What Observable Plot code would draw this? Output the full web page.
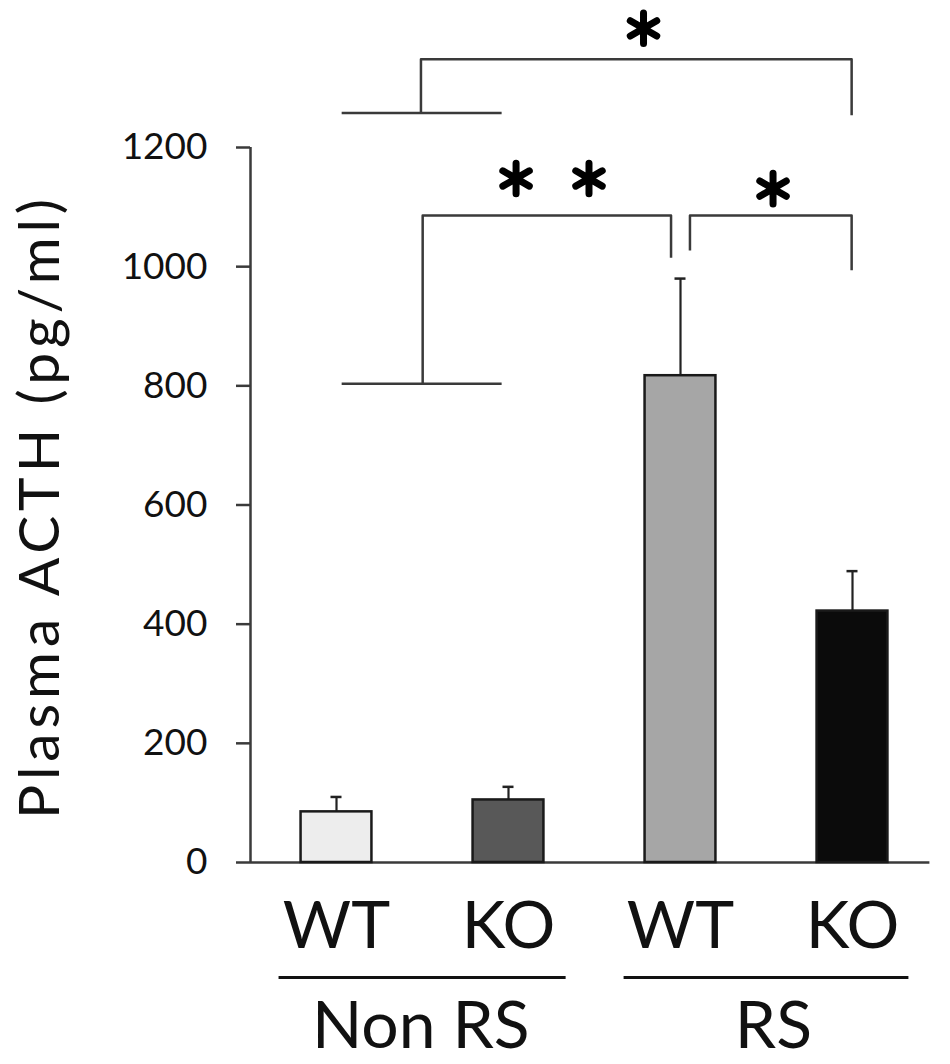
<!DOCTYPE html>
<html><head><meta charset="utf-8">
<script src="https://cdn.jsdelivr.net/npm/d3@7"></script>
<script src="https://cdn.jsdelivr.net/npm/@observablehq/plot@0.6"></script>
<style>body{margin:0;background:#fff} #chart{width:950px;height:1064px}</style>
</head><body><div id="chart"></div>
<script>
// ---- data ----
const genotypes = ["WT", "KO", "WT", "KO"];
const acth = [85, 105, 817, 422];          // pg/ml
const sem = [25, 22, 163, 67];             // upward error
const barColors = ["#ededed", "#585858", "#a6a6a6", "#0b0b0b"];
const yTicks = [0, 200, 400, 600, 800, 1000, 1200];
const groupNames = ["Non RS", "RS"];
const groupSpan = [[0.666, 2.335], [2.672, 4.328]];
const groupLabelX = [1.49, 3.54];
// significance brackets (x in bar-index units, y in pg/ml)
const brackets = [
  {id: "b1", pts: [[1.491, 1258], [1.491, 1348], [3.995, 1348], [3.995, 1254]]},
  {id: "b1base", pts: [[1.03, 1258], [1.96, 1258]]},
  {id: "b2", pts: [[1.501, 803.5], [1.501, 1086], [2.945, 1086], [2.945, 1015]]},
  {id: "b2base", pts: [[1.03, 803.5], [1.96, 803.5]]},
  {id: "b3", pts: [[3.055, 1027], [3.055, 1086], [3.995, 1086], [3.995, 994]]}
];
const stars = [[2.785, 1400], [2.044, 1148], [2.468, 1148], [3.538, 1131]];
const yLabel = "Plasma ACTH (pg/ml)";

// ---- build ----
const idx = d3.range(acth.length);
const bracketPts = brackets.flatMap(b => b.pts.map(p => ({id: b.id, x: p[0], y: p[1]})));
const halfW = 0.206, capW = 0.032;
const ink = "#111";

const chart = Plot.plot({
  width: 950, height: 1064,
  marginLeft: 250, marginRight: 12, marginTop: 147, marginBottom: 202,
  x: {type: "linear", domain: [0.5, 4.5], axis: null},
  y: {domain: [0, 1200], axis: null},
  color: {type: "identity"},
  style: {fontFamily: "Lato, 'Open Sans', sans-serif", background: "white", color: ink},
  marks: [
    Plot.axisY({ticks: yTicks, tickFormat: d => String(d), tickSize: 14, tickPadding: 29,
      fontSize: 37, stroke: "#3a3a3a", strokeWidth: 2.5, fill: ink, label: null}),
    Plot.ruleX([0.5], {y1: 0, y2: 1200, stroke: "#3a3a3a", strokeWidth: 2.5}),
    Plot.ruleY([0], {x1: 0.5, x2: 4.45, stroke: "#3a3a3a", strokeWidth: 2.5}),
    Plot.ruleX(idx, {x: i => i + 1, y1: i => acth[i], y2: i => acth[i] + sem[i], stroke: "#222", strokeWidth: 2.2}),
    Plot.ruleY(idx, {y: i => acth[i] + sem[i], x1: i => i + 1 - capW, x2: i => i + 1 + capW, stroke: "#222", strokeWidth: 2.5}),
    Plot.rectY(idx, {x1: i => i + 1 - halfW, x2: i => i + 1 + halfW, y1: 0, y2: i => acth[i],
      fill: i => barColors[i], stroke: "#1a1a1a", strokeWidth: 2.5}),
    Plot.line(bracketPts, {x: "x", y: "y", z: "id", stroke: "#3a3a3a", strokeWidth: 2.5,
      strokeLinejoin: "round", strokeLinecap: "butt"}),
    Plot.dot(stars, {x: d => d[0], y: d => d[1], symbol: "asterisk", r: 14.5,
      stroke: "#000", strokeWidth: 7, strokeLinecap: "round"}),
    Plot.text(idx, {x: i => i + 1, y: -108, text: i => genotypes[i], fontSize: 66, lineAnchor: "middle", fill: ink}),
    Plot.ruleY(d3.range(groupNames.length), {y: -193, x1: i => groupSpan[i][0], x2: i => groupSpan[i][1], stroke: ink, strokeWidth: 3}),
    Plot.text(d3.range(groupNames.length), {x: i => groupLabelX[i], y: -276, text: i => groupNames[i], fontSize: 66, lineAnchor: "middle", fill: ink}),
    Plot.text([yLabel], {frameAnchor: "left", textAnchor: "middle", lineAnchor: "middle", dx: -210, dy: 4, rotate: -90,
      text: d => d, fontSize: 57, fill: ink})
  ]
});
// stretch the axis title to the reference's length
d3.select(chart).selectAll("text").filter(function() { return this.textContent === yLabel; })
  .attr("textLength", 620).attr("lengthAdjust", "spacing");
document.getElementById("chart").appendChild(chart);
</script>
</body></html>
